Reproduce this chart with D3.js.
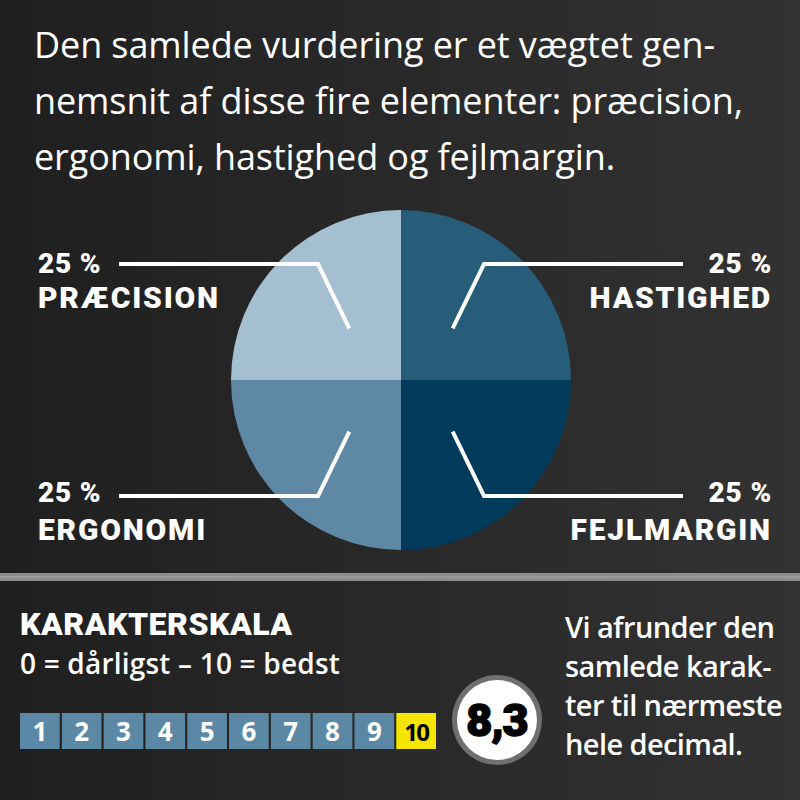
<!DOCTYPE html>
<html>
<head>
<meta charset="utf-8">
<script src="https://cdn.jsdelivr.net/npm/d3@7"></script>
<style>
  html, body { margin:0; padding:0; background:#262626; }
  svg { display:block; }
</style>
</head>
<body>
<svg id="chart" width="800" height="800"></svg>
<script>
/* data */
var introLines = ["Den samlede vurdering er et vægtet gen-",
                  "nemsnit af disse fire elementer: præcision,",
                  "ergonomi, hastighed og fejlmargin."];
// clockwise from 12 o'clock
var elements = ["HASTIGHED", "FEJLMARGIN", "ERGONOMI", "PRÆCISION"];
var weights = [25, 25, 25, 25];
var sliceColors = ["#285d79", "#013b5b", "#5e88a4", "#a4bfcf"];
var scaleSteps = [1, 2, 3, 4, 5, 6, 7, 8, 9, 10];
var scaleTitle = "KARAKTERSKALA";
var scaleSub = "0 = dårligst – 10 = bedst";
var score = 8.3;
var noteLines = ["Vi afrunder den", "samlede karak-", "ter til nærmeste", "hele decimal."];

var svg = d3.select("#chart");
var W = 800, H = 800;

/* background */
var defs = svg.append("defs");
var bg = defs.append("linearGradient").attr("id", "bg")
    .attr("x1", "0").attr("y1", "0").attr("x2", "1").attr("y2", "0");
bg.append("stop").attr("offset", "0").attr("stop-color", "#1f1f1f");
bg.append("stop").attr("offset", "1").attr("stop-color", "#323232");
svg.append("rect").attr("width", W).attr("height", H).attr("fill", "url(#bg)");

/* intro text */
svg.append("g").selectAll("text")
    .data(introLines)
    .join("text")
    .attr("x", 34)
    .attr("y", function(d, i){ return 58 + i * 56; })
    .attr("fill", "#fff")
    .style("font-family", "'Open Sans', sans-serif")
    .style("font-size", "36px")
    .style("letter-spacing", "-0.1px")
    .text(function(d){ return d; });

/* pie */
var cx = 401, cy = 380, R = 170;
var pie = d3.pie().sort(null).value(function(d){ return d; });
var arcs = pie(weights);
var arc = d3.arc().innerRadius(0).outerRadius(R);
var inner = d3.arc().innerRadius(R * 0.43).outerRadius(R * 0.43);

var pg = svg.append("g").attr("transform", "translate(" + cx + "," + cy + ")");
pg.selectAll("path")
    .data(arcs)
    .join("path")
    .attr("d", arc)
    .attr("fill", function(d, i){ return sliceColors[i]; });

/* leader lines: from inside the slice, out at an angle, then flat to the label */
function leader(d){
    var c = inner.centroid(d);
    var sx = c[0] < 0 ? -1 : 1, sy = c[1] < 0 ? -1 : 1;
    var elbow = [sx * 83, sy * 116];
    var end = [sx * 282, sy * 116];
    return d3.line()([c, elbow, end]);
}
pg.selectAll("path.leader")
    .data(arcs)
    .join("path")
    .attr("class", "leader")
    .attr("d", leader)
    .attr("fill", "none")
    .attr("stroke", "#fff")
    .attr("stroke-width", 4)
    .attr("stroke-linejoin", "miter");

/* labels */
var lab = svg.append("g").selectAll("g")
    .data(arcs)
    .join("g")
    .attr("transform", function(d){
        var c = inner.centroid(d);
        var x = c[0] < 0 ? 38 : 772;
        var y = c[1] < 0 ? 273 : 502;
        return "translate(" + x + "," + y + ")";
    })
    .attr("text-anchor", function(d){ return inner.centroid(d)[0] < 0 ? "start" : "end"; })
    .style("font-family", "Roboto, sans-serif")
    .style("font-weight", "900")
    .attr("fill", "#fff");
lab.append("text")
    .style("font-size", "28px")
    .style("letter-spacing", "0.8px")
    .text(function(d){ return d.value + " %"; });
lab.append("text")
    .attr("y", function(d){ return inner.centroid(d)[1] < 0 ? 35 : 38; })
    .style("font-size", "30px")
    .style("letter-spacing", "1.8px")
    .text(function(d, i){ return elements[i]; });

/* separator */
svg.append("rect").attr("x", 0).attr("y", 573).attr("width", W).attr("height", 8)
    .attr("fill", "#8c8c8c");
svg.append("rect").attr("x", 0).attr("y", 576).attr("width", W).attr("height", 2)
    .attr("fill", "#9a9a9a");

/* grade scale */
svg.append("text").attr("x", 20).attr("y", 635)
    .attr("fill", "#fff")
    .style("font-family", "Roboto, sans-serif").style("font-weight", "900")
    .style("font-size", "32px").style("letter-spacing", "0.5px")
    .text(scaleTitle);
svg.append("text").attr("x", 20).attr("y", 674)
    .attr("fill", "#fff")
    .style("font-family", "'Open Sans', sans-serif").style("font-weight", "600")
    .style("font-size", "28px").style("letter-spacing", "0.2px")
    .text(scaleSub);

var xs = d3.scaleBand().domain(scaleSteps).range([20, 436]).paddingInner(0.05);
var cells = svg.append("g").selectAll("g")
    .data(scaleSteps)
    .join("g")
    .attr("transform", function(d){ return "translate(" + xs(d) + ",713)"; });
cells.append("rect")
    .attr("width", xs.bandwidth())
    .attr("height", 36)
    .attr("fill", function(d){ return d === 10 ? "#f6e500" : "#5b88a5"; });
cells.append("text")
    .attr("x", xs.bandwidth() / 2)
    .attr("y", 28)
    .attr("text-anchor", "middle")
    .attr("fill", function(d){ return d === 10 ? "#000" : "#fff"; })
    .style("font-family", "'Open Sans', sans-serif").style("font-weight", "700")
    .style("font-size", function(d){ return d === 10 ? "24px" : "26px"; })
    .style("letter-spacing", function(d){ return d === 10 ? "-1.8px" : "0"; })
    .text(function(d){ return d; });

/* score badge */
var badge = svg.append("g").attr("transform", "translate(497,720)");
badge.append("circle").attr("r", 45).attr("fill", "#6f6f6f");
badge.append("circle").attr("r", 40).attr("fill", "#fff");
badge.append("text")
    .attr("y", 16)
    .attr("text-anchor", "middle")
    .style("font-family", "Roboto, sans-serif").style("font-weight", "900")
    .style("font-size", "45px").style("letter-spacing", "-1px")
    .attr("fill", "#000")
    .attr("stroke", "#000").attr("stroke-width", 1.5)
    .text(d3.format(".1f")(score).replace(".", ","));

/* note */
svg.append("g").selectAll("text")
    .data(noteLines)
    .join("text")
    .attr("x", 565)
    .attr("y", function(d, i){ return 638 + i * 39; })
    .attr("fill", "#fff")
    .style("font-family", "'Open Sans', sans-serif").style("font-weight", "600")
    .style("font-size", "29px").style("letter-spacing", "-0.6px")
    .text(function(d){ return d; });
</script>
</body>
</html>
